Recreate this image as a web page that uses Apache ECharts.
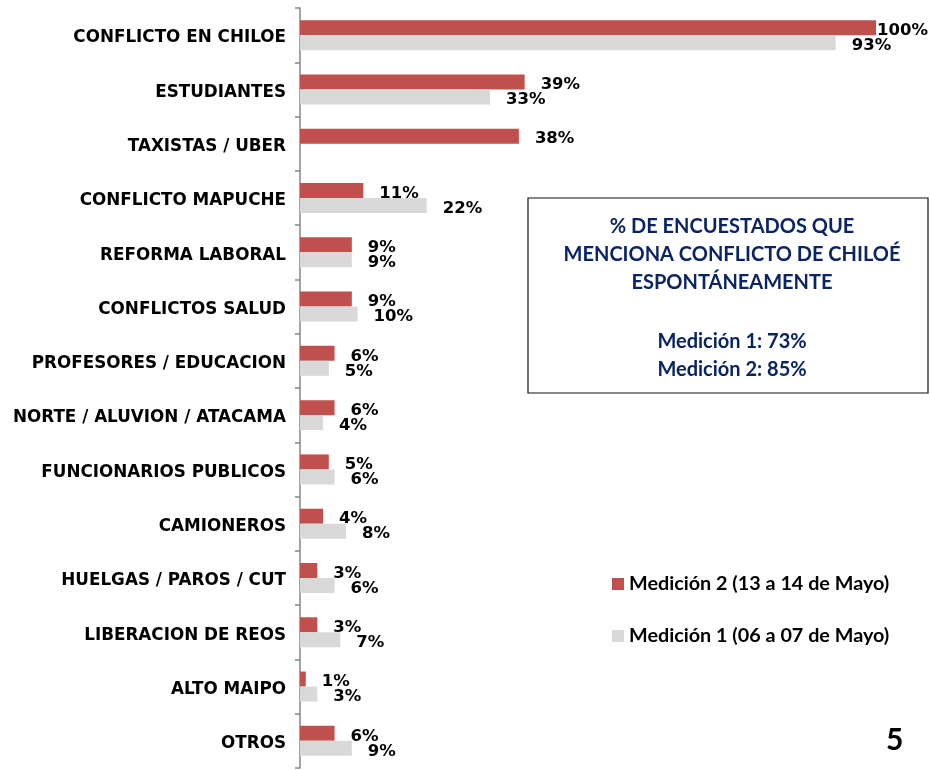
<!DOCTYPE html>
<html>
<head>
<meta charset="utf-8">
<script src="https://cdn.jsdelivr.net/npm/echarts@6/dist/echarts.min.js"></script>
<style>
  html, body { margin: 0; padding: 0; background: #fff; }
  #container { width: 930px; height: 770px; }
</style>
</head>
<body>
<div id="container"></div>
<script>
// categorias de arriba a abajo
let categories = [
    'CONFLICTO EN CHILOE', 'ESTUDIANTES', 'TAXISTAS / UBER', 'CONFLICTO MAPUCHE',
    'REFORMA LABORAL', 'CONFLICTOS SALUD', 'PROFESORES / EDUCACION',
    'NORTE / ALUVION / ATACAMA', 'FUNCIONARIOS PUBLICOS', 'CAMIONEROS',
    'HUELGAS / PAROS / CUT', 'LIBERACION DE REOS', 'ALTO MAIPO', 'OTROS'
]
let medicion2 = [100, 39, 38, 11, 9, 9, 6, 6, 5, 4, 3, 3, 1, 6]
let medicion1 = [93, 33, null, 22, 9, 10, 5, 4, 6, 8, 6, 7, 3, 9]
let seriesNames = ['Medición 2 (13 a 14 de Mayo)', 'Medición 1 (06 a 07 de Mayo)']
let boxTitle = ['% DE ENCUESTADOS QUE', 'MENCIONA CONFLICTO DE CHILOÉ', 'ESPONTÁNEAMENTE']
let boxValues = ['Medición 1: 73%', 'Medición 2: 85%']

const labelFont = 'DejaVu Sans'
const boxFont = 'Lato'

let dataLabel = {
    show: true,
    position: 'right',
    distance: 16,
    offset: [0, 3],
    color: '#000',
    fontFamily: labelFont,
    fontWeight: 'bold',
    fontSize: 16.5,
    formatter: p => p.value + '%'
}

// el 100% va pegado a la barra
function toItems(arr) {
    return arr.map(v => v === 100 ? { value: v, label: { distance: 1 } } : v)
}

let options = {
    animation: false,
    backgroundColor: '#fff',
    grid: {
        left: 300,
        right: 54,
        top: 8,
        bottom: 2
    },
    legend: {
        orient: 'vertical',
        left: 607,
        top: 569,
        itemWidth: 12,
        itemHeight: 12,
        itemGap: 32,
        icon: 'rect',
        textStyle: {
            fontFamily: boxFont,
            fontWeight: 'bold',
            fontSize: 19.8,
            color: '#000'
        },
        data: seriesNames
    },
    xAxis: {
        type: 'value',
        min: 0,
        max: 100,
        show: false
    },
    yAxis: {
        type: 'category',
        inverse: true,
        data: categories,
        axisLine: {
            show: true,
            lineStyle: { color: '#868686', width: 1.5 }
        },
        axisTick: {
            show: true,
            length: 5,
            lineStyle: { color: '#868686', width: 1.5 }
        },
        axisLabel: {
            margin: 14,
            formatter: v => '{c|' + v + '}',
            rich: {
                c: {
                    padding: [6, 0, 0, 0],
                    color: '#000',
                    fontFamily: labelFont,
                    fontWeight: 'bold',
                    fontSize: 16.8
                }
            }
        }
    },
    series: [
        {
            name: seriesNames[0],
            type: 'bar',
            data: toItems(medicion2),
            barWidth: 15,
            barGap: '0%',
            itemStyle: { color: '#C0504D' },
            label: dataLabel
        },
        {
            name: seriesNames[1],
            type: 'bar',
            data: toItems(medicion1),
            barWidth: 15,
            barGap: '0%',
            itemStyle: { color: '#D9D9D9' },
            label: dataLabel
        }
    ],
    graphic: {
        elements: [
            {
                type: 'rect',
                x: 528,
                y: 198,
                shape: { width: 400, height: 195 },
                style: { fill: '#fff', stroke: '#111', lineWidth: 1.2 }
            },
            {
                type: 'text',
                x: 732,
                y: 213,
                style: {
                    text: boxTitle.join('\n'),
                    fill: '#0B2463',
                    font: 'bold 20px ' + boxFont,
                    lineHeight: 28,
                    textAlign: 'center'
                }
            },
            {
                type: 'text',
                x: 732,
                y: 328,
                style: {
                    text: boxValues.join('\n'),
                    fill: '#0B2463',
                    font: 'bold 20px ' + boxFont,
                    lineHeight: 28,
                    textAlign: 'center'
                }
            },
            {
                type: 'text',
                x: 886,
                y: 725,
                style: {
                    text: '5',
                    fill: '#000',
                    font: 'bold 30px ' + boxFont
                }
            }
        ]
    }
}

let mychart = echarts.init(document.getElementById('container'))
mychart.setOption(options)
</script>
</body>
</html>
